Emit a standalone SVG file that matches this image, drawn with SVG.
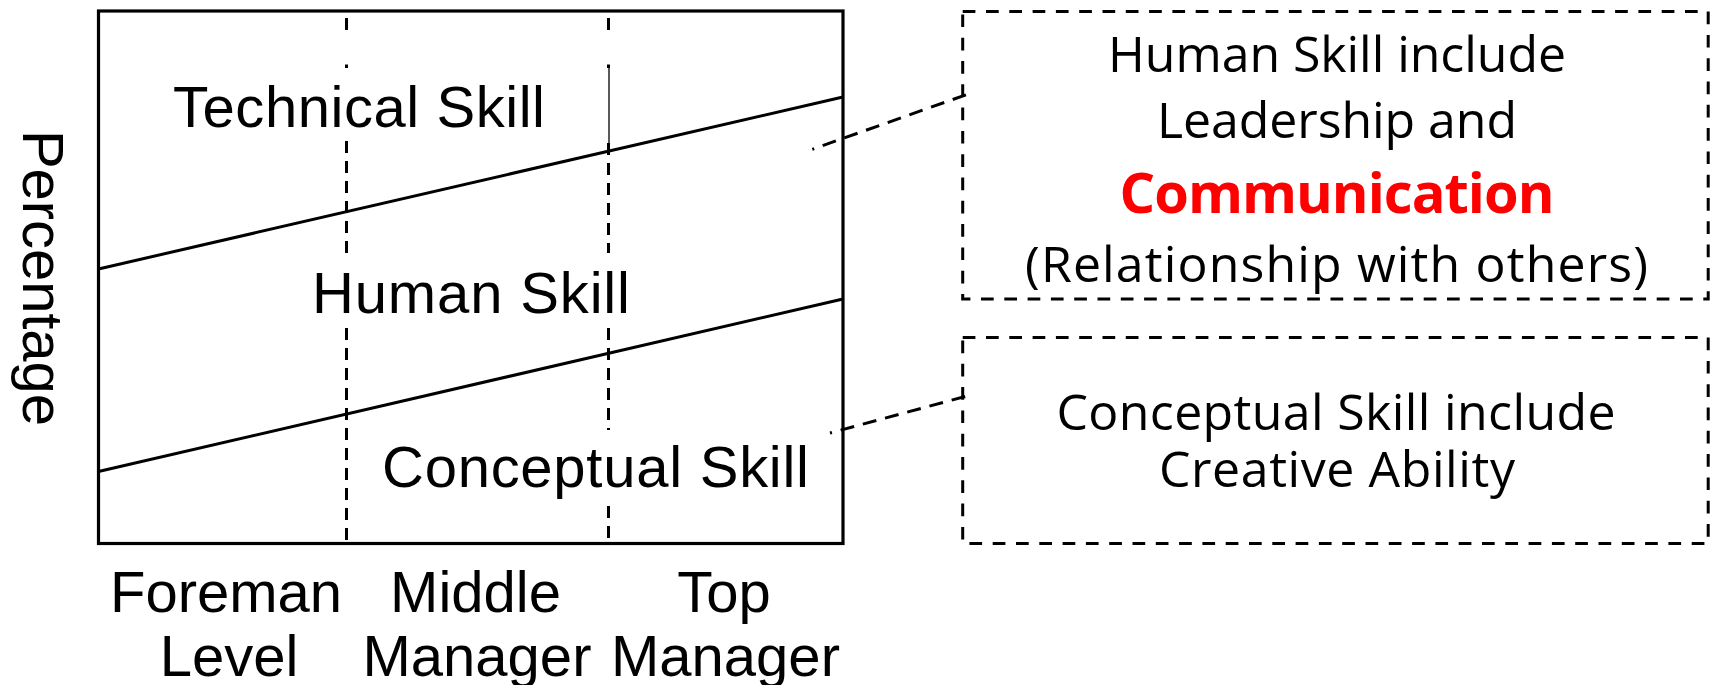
<svg xmlns="http://www.w3.org/2000/svg" width="1713" height="685" viewBox="0 0 1713 685">
<style>
.frame{fill:none;stroke:#000;stroke-width:3.2}
.solid{fill:none;stroke:#000;stroke-width:3}
.vdash{fill:none;stroke:#000;stroke-width:3;stroke-dasharray:12 8}
.thin{fill:none;stroke:#000;stroke-width:1.3}
.box{fill:#fff;stroke:#000;stroke-width:3;stroke-dasharray:12.7 10.6}
.lead{fill:none;stroke:#000;stroke-width:3;stroke-dasharray:14 9}
.ct{font-family:"Liberation Sans",Arial,sans-serif;font-size:58px;fill:#000}
.bt{font-family:"Open Sans","Noto Sans",sans-serif;font-size:50px;fill:#000;text-anchor:middle}
.hl{font-family:"Open Sans","Noto Sans",sans-serif;font-size:56px;font-weight:bold;fill:#ff0000;text-anchor:middle}
</style>
<rect width="1713" height="685" fill="#fff"/>
<g id="chart">
  <rect class="frame" x="98.5" y="11" width="744.5" height="532.5"/>
  <path class="vdash" d="M346.5 18V31M346.5 64.5V68M346.5 141V253M346.5 328V543"/>
  <path class="vdash" d="M608.5 18V31M608.5 64.5V68M608.5 143V253M608.5 328V430M608.5 506V543"/>
  <path class="thin" d="M609 68V143"/>
  <path class="solid" d="M98.5 269L843 97"/>
  <path class="solid" d="M98.5 471.5L843 299"/>
  <text class="ct" x="173" y="126.7" textLength="372">Technical Skill</text>
  <text class="ct" x="312" y="313.3" textLength="318">Human Skill</text>
  <text class="ct" x="382" y="487" textLength="427">Conceptual Skill</text>
  <text class="ct" transform="translate(22.5,130) rotate(90)" textLength="296">Percentage</text>
  <text class="ct" x="226" y="611.5" text-anchor="middle">Foreman</text>
  <text class="ct" x="475.5" y="611.5" text-anchor="middle">Middle</text>
  <text class="ct" x="724" y="611.5" text-anchor="middle">Top</text>
  <text class="ct" x="229" y="676" text-anchor="middle">Level</text>
  <text class="ct" x="477" y="676" text-anchor="middle">Manager</text>
  <text class="ct" x="725.5" y="676" text-anchor="middle">Manager</text>
</g>
<g id="box-human">
  <rect class="box" x="962.7" y="11.5" width="745.5" height="287.5"/>
  <text class="bt" x="1337" y="71.7" textLength="458">Human Skill include</text>
  <text class="bt" x="1337" y="138.3" textLength="360">Leadership and</text>
  <text class="hl" x="1337" y="212.7" textLength="435">Communication</text>
  <text class="bt" x="1336.5" y="281.7" textLength="623">(Relationship with others)</text>
</g>
<g id="box-conceptual">
  <rect class="box" x="962.7" y="337.5" width="745.5" height="206"/>
  <text class="bt" x="1336" y="430" textLength="559">Conceptual Skill include</text>
  <text class="bt" x="1337" y="486.7" textLength="356">Creative Ability</text>
</g>
<g id="connectors">
  <path class="lead" d="M812.3 149.3L967.3 94.3" stroke-dashoffset="12"/>
  <path class="lead" d="M830 433L967 396" stroke-dashoffset="12"/>
</g>
</svg>
